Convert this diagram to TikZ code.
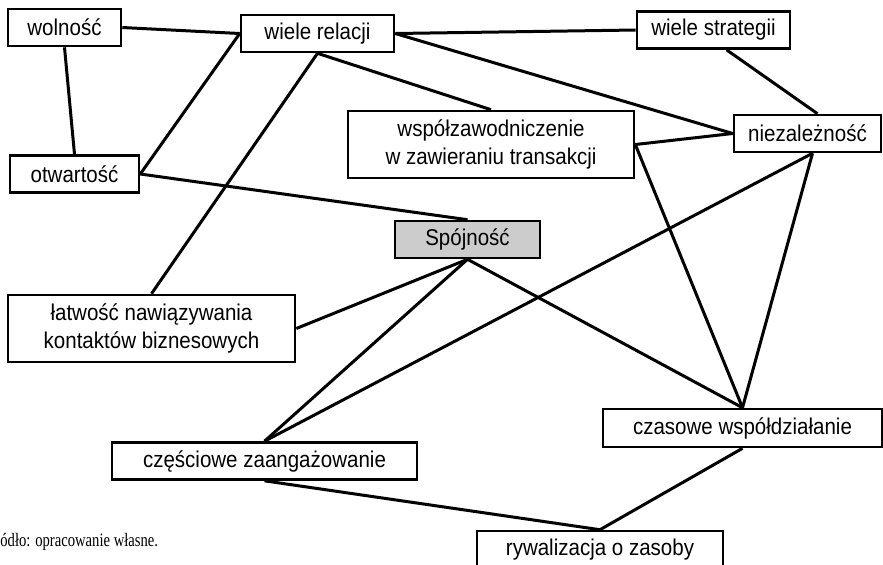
\documentclass[tikz,border=0pt]{standalone}
\usepackage{fontspec}
\setmainfont{Liberation Sans}
\newfontfamily\boxfont[FakeStretch=0.9]{Liberation Sans}
\newfontfamily\zrodlofont[FakeStretch=0.77]{Liberation Serif}
\usetikzlibrary{calc}

\begin{document}
\begin{tikzpicture}[x=0.5pt,y=-0.5pt,
  box/.style={draw,line width=1.3pt,inner sep=0pt,minimum height=18.5pt,align=center,font=\boxfont\fontsize{11.4}{14}\selectfont},
  link/.style={line width=1.5pt}]
\useasboundingbox (0,0) rectangle (883,564);

\node[box,minimum width=56.5pt] (wol) at (64.5,27.5) {wolność};
\node[box,minimum width=76.5pt] (wr) at (317.5,33.5) {wiele relacji};
\node[box,minimum width=76.5pt] (ws) at (713.5,30) {wiele strategii};
\node[box,minimum width=64.5pt] (otw) at (74.5,174) {otwartość};
\node[box,minimum width=143pt,minimum height=33.5pt] (wsp) at (491,144.5) {współzawodniczenie\\w zawieraniu transakcji};
\node[box,minimum width=73.5pt] (nz) at (807.5,133.5) {niezależność};
\node[box,minimum width=72.5pt,fill=black!20] (sp) at (467.5,239.5) {Spójność};
\node[box,minimum width=143.5pt,minimum height=33.5pt] (lat) at (151.5,328.5) {łatwość nawiązywania\\kontaktów biznesowych};
\node[box,minimum width=152.5pt] (cz) at (264.5,461) {częściowe zaangażowanie};
\node[box,minimum width=139.5pt,minimum height=19pt] (czas) at (742.5,428) {czasowe współdziałanie};
\node[box,minimum width=123pt] (ryw) at (600,549.5) {rywalizacja o zasoby};

\node[anchor=base west,inner sep=0pt,font=\zrodlofont\fontsize{9.5}{11}\selectfont] (zrodlo) at (0,546) {ódło: opracowanie własne.};

\draw[link] (wol.east) -- (wr.west);
\draw[link] (wol.south) -- (otw.north);
\draw[link] (otw.east) -- (wr.west);
\draw[link] (wr.south) -- (lat.north);
\draw[link] (wr.south) -- (wsp.north);
\draw[link] (wr.east) -- (ws.west);
\draw[link] (wr.east) -- (nz.west);
\draw[link] ($(ws.south)+(13,0)$) -- ($(nz.north)+(10,0)$);
\draw[link] (wsp.east) -- (nz.west);
\draw[link] (otw.east) -- (sp.north);
\draw[link] (lat.east) -- (sp.south);
\draw[link] (sp.south) -- (cz.north);
\draw[link] (sp.south) -- (czas.north);
\draw[link] ($(nz.south)+(5,0)$) -- (cz.north);
\draw[link] ($(nz.south)+(5,0)$) -- (czas.north);
\draw[link] (wsp.east) -- (czas.north);
\draw[link] (cz.south) -- (ryw.north);
\draw[link] (czas.south) -- (ryw.north);
\end{tikzpicture}
\end{document}
